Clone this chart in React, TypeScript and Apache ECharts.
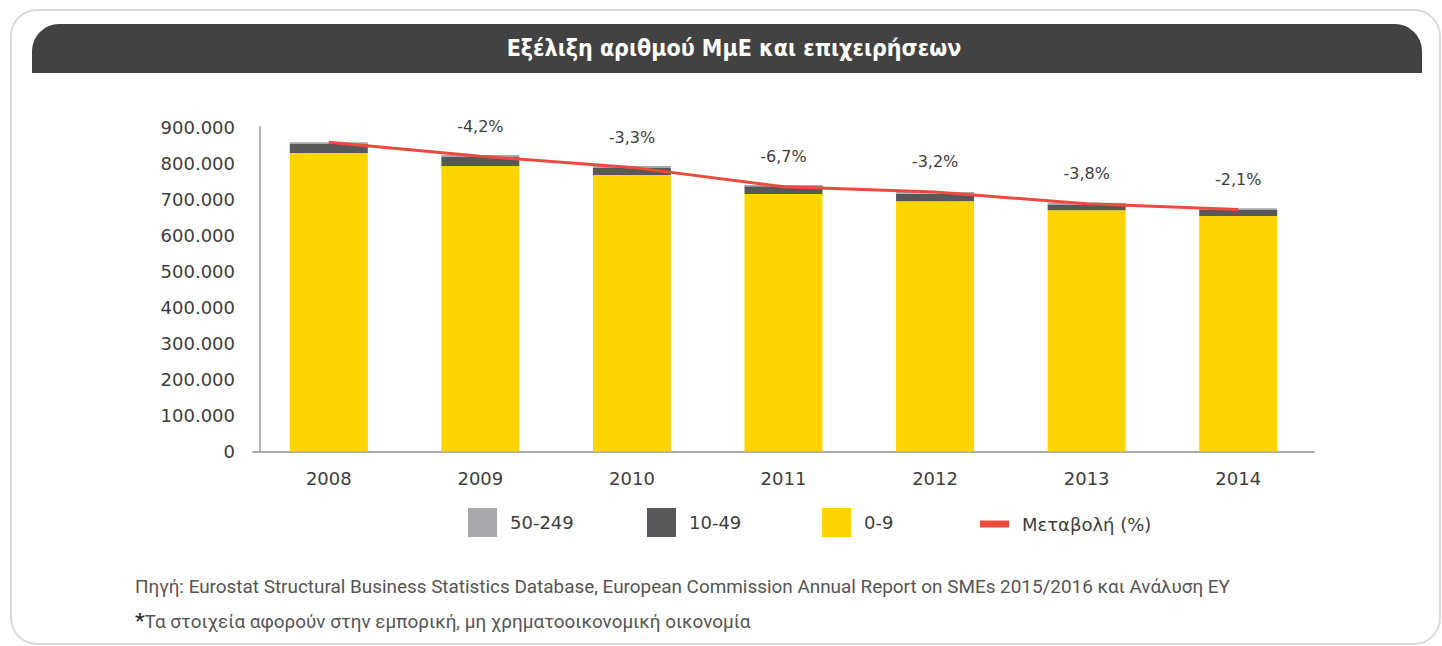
import React, { useEffect, useRef } from "react";
import * as echarts from "echarts";

const years = ["2008", "2009", "2010", "2011", "2012", "2013", "2014"];
const micro = [828000, 792000, 767000, 714000, 694000, 669000, 653000]; // 0-9
const small = [25000, 25000, 19000, 22000, 21000, 16000, 17000]; // 10-49
const medium = [5000, 5500, 6000, 3000, 4500, 5000, 5000]; // 50-249
const totalLine = [858000, 819000, 788000, 734000, 720000, 687000, 671000];
const changes = ["", "-4,2%", "-3,3%", "-6,7%", "-3,2%", "-3,8%", "-2,1%"];
const yTicks = { min: 0, max: 900000, interval: 100000 };

const title = "Εξέλιξη αριθμού ΜμΕ και επιχειρήσεων";
const source =
  "Πηγή: Eurostat Structural Business Statistics Database, European Commission Annual Report on SMEs 2015/2016 και Ανάλυση ΕΥ";
const note = "Τα στοιχεία αφορούν στην εμπορική, μη χρηματοοικονομική οικονομία";

const C_YELLOW = "#FFD400";
const C_DARK = "#58585A";
const C_LIGHT = "#A7A8AB";
const C_RED = "#EC4A3E";
const TXT = "#3d3d3d";
const FONT = "'DejaVu Sans', Verdana, sans-serif";

function fmt(v: number): string {
  if (v === 0) return "0";
  const k = Math.round(v / 1000);
  return k + ".000";
}

export default function App() {
  const ref = useRef<HTMLDivElement>(null);
  useEffect(() => {
    if (!ref.current) return;
    const chart = echarts.init(ref.current, undefined, { renderer: "svg" });
    const legendBase = (name: string, left: number, top: number, h: number) => ({
      data: [name],
      left,
      top,
      padding: 0,
      itemWidth: 29,
      itemHeight: h,
      selectedMode: false,
      icon: "rect",
      textStyle: { fontFamily: FONT, fontSize: 18, color: TXT, padding: [0, 0, 0, 8] },
    });
    chart.setOption({
      animation: false,
      backgroundColor: "#ffffff",
      grid: { left: 253, right: 128, top: 127, bottom: 194.5 },
      legend: [
        legendBase("50-249", 468, 508, 29),
        legendBase("10-49", 647, 508, 29),
        legendBase("0-9", 822, 508, 29),
        legendBase("Μεταβολή (%)", 980, 515, 7),
      ],
      xAxis: {
        type: "category",
        data: years,
        axisTick: { show: false },
        axisLine: { lineStyle: { color: "#8f8f8f", width: 1.5 } },
        axisLabel: { fontFamily: FONT, fontSize: 18, color: TXT, margin: 18 },
      },
      yAxis: {
        type: "value",
        min: yTicks.min,
        max: yTicks.max,
        interval: yTicks.interval,
        offset: -7,
        splitLine: { show: false },
        axisTick: { show: false },
        axisLine: { show: true, lineStyle: { color: "#9a9a9a", width: 1.5 } },
        axisLabel: { fontFamily: FONT, fontSize: 18, color: TXT, margin: 25, formatter: fmt },
      },
      series: [
        {
          name: "0-9",
          type: "bar",
          stack: "t",
          data: micro,
          barWidth: 78,
          itemStyle: { color: C_YELLOW },
        },
        {
          name: "10-49",
          type: "bar",
          stack: "t",
          data: small,
          barWidth: 78,
          itemStyle: { color: C_DARK },
        },
        {
          name: "50-249",
          type: "bar",
          stack: "t",
          data: medium,
          barWidth: 78,
          itemStyle: { color: C_LIGHT },
        },
        {
          name: "Μεταβολή (%)",
          type: "line",
          data: totalLine,
          symbol: "circle",
          symbolSize: 0.1,
          showSymbol: true,
          lineStyle: { color: C_RED, width: 3 },
          itemStyle: { color: C_RED },
          z: 5,
          label: {
            show: true,
            position: "top",
            distance: 22,
            fontFamily: FONT,
            fontSize: 16,
            color: TXT,
            formatter: (p: any) => changes[p.dataIndex],
          },
        },
      ],
      graphic: [
        {
          type: "rect",
          z: -10,
          shape: { x: 11, y: 10, width: 1429, height: 634, r: 26 },
          style: { fill: "none", stroke: "#d9d9d9", lineWidth: 2 },
        },
        {
          type: "rect",
          z: -5,
          shape: { x: 32, y: 24, width: 1390, height: 49, r: [27, 27, 0, 0] },
          style: { fill: "#424243" },
        },
        {
          type: "text",
          x: 734,
          y: 48,
          style: {
            text: title,
            fill: "#ffffff",
            font: "bold 23px 'DejaVu Sans Condensed', 'Liberation Sans Narrow', sans-serif",
            align: "center",
            verticalAlign: "middle",
          },
        },
        {
          type: "text",
          x: 135,
          y: 586,
          style: {
            text: source,
            fill: "#555555",
            font: "18.9px Roboto, sans-serif",
            align: "left",
            verticalAlign: "middle",
          },
        },
        {
          type: "text",
          x: 135,
          y: 621,
          style: {
            text: "{s|*}" + note,
            fill: "#555555",
            font: "18.9px Roboto, sans-serif",
            align: "left",
            verticalAlign: "middle",
            rich: {
              s: { font: "bold 21px Roboto, sans-serif", fill: "#333333", verticalAlign: "top" },
            },
          },
        },
      ],
    });
    return () => chart.dispose();
  }, []);
  return (
    <div
      ref={ref}
      style={{ position: "fixed", left: 0, top: 0, width: 1442, height: 646, background: "#fff" }}
    />
  );
}
